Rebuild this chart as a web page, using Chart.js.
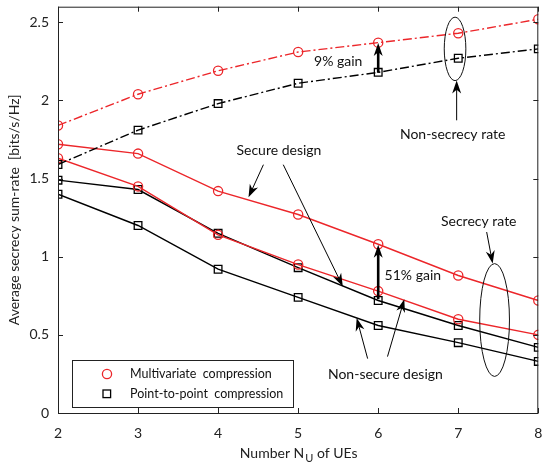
<!DOCTYPE html>
<html>
<head>
<meta charset="utf-8">
<script src="https://cdn.jsdelivr.net/npm/chart.js@4/dist/chart.umd.min.js"></script>
<style>
  html, body { margin: 0; padding: 0; background: #fff; }
  #wrap { width: 545px; height: 466px; }
</style>
</head>
<body>
<div id="wrap"><canvas id="rateChart" width="545" height="466"></canvas></div>
<script>
// number of UEs on the x axis
var nUE = [2, 3, 4, 5, 6, 7, 8];
var xTicks = [2, 3, 4, 5, 6, 7, 8];
var yTicks = [0, 0.5, 1, 1.5, 2, 2.5];
var yTickLabels = ['0', '0.5', '1', '1.5', '2', '2.5'];

// non-secrecy rate (dash-dot)
var mvNonSecrecy = [1.84, 2.04, 2.19, 2.31, 2.37, 2.43, 2.52];
var p2pNonSecrecy = [1.59, 1.81, 1.98, 2.11, 2.18, 2.27, 2.33];
// secrecy rate, secure design
var mvSecure = [1.72, 1.66, 1.42, 1.27, 1.08, 0.88, 0.72];
var p2pSecure = [1.49, 1.43, 1.15, 0.93, 0.72, 0.56, 0.42];
// secrecy rate, non-secure design
var mvNonSecure = [1.63, 1.45, 1.14, 0.95, 0.78, 0.60, 0.50];
var p2pNonSecure = [1.40, 1.20, 0.92, 0.74, 0.56, 0.45, 0.33];

var legendLabels = ['Multivariate  compression', 'Point-to-point  compression'];

var RED = 'rgb(236,38,42)';
var BLK = '#000';
var FONT = 'Lato, "DejaVu Sans", sans-serif';

function pts(ys) {
	return nUE.map(function(x, i) { return {x: x, y: ys[i]}; });
}

function series(label, ys, color, shape, dashed) {
	return {
		label: label,
		data: pts(ys),
		borderColor: color,
		backgroundColor: 'rgba(0,0,0,0)',
		borderWidth: 1.4,
		borderDash: dashed ? [9, 3, 2, 3] : [],
		pointStyle: shape,
		pointRadius: shape === 'circle' ? 4.6 : 5.4,
		pointBorderWidth: 1.3,
		pointBorderColor: color,
		pointBackgroundColor: 'rgba(0,0,0,0)',
		tension: 0
	};
}

// helper: filled arrow head, matlab style with a notch
function arrow(ctx, x1, y1, x2, y2, lw, hl, hw) {
	var dx = x2 - x1, dy = y2 - y1;
	var len = Math.sqrt(dx * dx + dy * dy);
	var ux = dx / len, uy = dy / len;
	var px = -uy, py = ux;
	ctx.save();
	ctx.strokeStyle = '#000';
	ctx.fillStyle = '#000';
	ctx.lineWidth = lw;
	ctx.setLineDash([]);
	ctx.beginPath();
	ctx.moveTo(x1, y1);
	ctx.lineTo(x2 - ux * hl * 0.6, y2 - uy * hl * 0.6);
	ctx.stroke();
	ctx.beginPath();
	ctx.moveTo(x2, y2);
	ctx.lineTo(x2 - ux * hl + px * hw, y2 - uy * hl + py * hw);
	ctx.lineTo(x2 - ux * hl * 0.7, y2 - uy * hl * 0.7);
	ctx.lineTo(x2 - ux * hl - px * hw, y2 - uy * hl - py * hw);
	ctx.closePath();
	ctx.fill();
	ctx.restore();
}

function noPad(s) {
	s.paddingLeft = 0;
	s.paddingRight = 0;
	s.paddingTop = 0;
	s.paddingBottom = 0;
}

var overlay = {
	id: 'overlay',
	afterDraw: function(chart) {
		var ctx = chart.ctx;
		var xs = chart.scales.x, ys = chart.scales.y;
		var a = chart.chartArea;
		function X(v) { return xs.getPixelForValue(v); }
		function Y(v) { return ys.getPixelForValue(v); }

		// box and inward ticks
		ctx.save();
		ctx.strokeStyle = '#222';
		ctx.lineWidth = 1;
		ctx.strokeRect(a.left + 0.5, a.top + 0.5, a.right - a.left - 1, a.bottom - a.top);
		ctx.beginPath();
		xTicks.forEach(function(t) {
			var px = Math.round(X(t)) + 0.5;
			ctx.moveTo(px, a.bottom); ctx.lineTo(px, a.bottom - 5);
			ctx.moveTo(px, a.top); ctx.lineTo(px, a.top + 5);
		});
		yTicks.forEach(function(t) {
			var py = Math.round(Y(t)) + 0.5;
			ctx.moveTo(a.left, py); ctx.lineTo(a.left + 5, py);
			ctx.moveTo(a.right, py); ctx.lineTo(a.right - 5, py);
		});
		ctx.stroke();
		ctx.restore();

		// axis titles
		ctx.save();
		ctx.fillStyle = '#222';
		ctx.font = '14px ' + FONT;
		ctx.textBaseline = 'middle';
		var t1 = 'Number N', t2 = 'U', t3 = ' of UEs';
		var w1 = ctx.measureText(t1).width;
		ctx.font = '11px ' + FONT;
		var w2 = ctx.measureText(t2).width;
		ctx.font = '14px ' + FONT;
		var w3 = ctx.measureText(t3).width;
		var sx = (a.left + a.right) / 2 - (w1 + w2 + w3) / 2;
		ctx.textAlign = 'left';
		ctx.fillText(t1, sx, 453);
		ctx.font = '11px ' + FONT;
		ctx.fillText(t2, sx + w1 + 1, 458);
		ctx.font = '14px ' + FONT;
		ctx.fillText(t3, sx + w1 + w2 + 1, 453);
		ctx.translate(14, (a.top + a.bottom) / 2);
		ctx.rotate(-Math.PI / 2);
		ctx.textAlign = 'center';
		ctx.fillText('Average secrecy sum-rate  [bits/s/Hz]', 0, 0);
		ctx.restore();

		// annotations
		ctx.save();
		ctx.fillStyle = '#111';
		ctx.font = '14px ' + FONT;
		ctx.textAlign = 'center';
		ctx.textBaseline = 'middle';
		ctx.fillText('9% gain', X(5.5), Y(2.247));
		ctx.fillText('Non-secrecy rate', X(6.93), Y(1.785));
		ctx.fillText('Secure design', X(4.76), Y(1.677));
		ctx.fillText('Secrecy rate', X(7.256), Y(1.228));
		ctx.fillText('Non-secure design', X(6.09), Y(0.247));
		ctx.textAlign = 'left';
		ctx.fillText('51% gain', X(6.08), Y(0.88));

		ctx.strokeStyle = '#111';
		ctx.lineWidth = 1;
		ctx.beginPath();
		ctx.ellipse(X(6.96), Y(2.33), X(6.96) - X(6.825), Y(2.33) - Y(2.533), 0, 0, 2 * Math.PI);
		ctx.stroke();
		ctx.beginPath();
		ctx.ellipse(X(7.454), Y(0.595), X(7.454) - X(7.268), Y(0.595) - Y(0.956), 0, 0, 2 * Math.PI);
		ctx.stroke();
		ctx.restore();

		arrow(ctx, X(6), Y(2.177), X(6), Y(2.367), 2.6, 13, 4.5);
		arrow(ctx, X(6), Y(0.728), X(6), Y(1.076), 2.6, 13, 4.5);
		arrow(ctx, X(6.98), Y(1.873), X(6.98), Y(2.127), 1, 13, 4.5);
		arrow(ctx, X(4.566), Y(1.589), X(4.38), Y(1.38), 1, 13, 4.5);
		arrow(ctx, X(4.814), Y(1.589), X(5.558), Y(0.81), 1, 13, 4.5);
		arrow(ctx, X(7.355), Y(1.158), X(7.43), Y(0.956), 1, 13, 4.5);
		arrow(ctx, X(5.868), Y(0.348), X(5.731), Y(0.608), 1, 13, 4.5);
		arrow(ctx, X(6.116), Y(0.361), X(6.326), Y(0.728), 1, 13, 4.5);

		// legend box
		ctx.save();
		ctx.fillStyle = '#fff';
		ctx.fillRect(72, 360, 221, 47);
		ctx.strokeStyle = '#222';
		ctx.lineWidth = 1;
		ctx.strokeRect(72.5, 360.5, 221, 47);
		ctx.lineWidth = 1.3;
		ctx.strokeStyle = RED;
		ctx.beginPath();
		ctx.arc(107, 374, 4.6, 0, 2 * Math.PI);
		ctx.stroke();
		ctx.strokeStyle = BLK;
		ctx.strokeRect(103, 390, 7.6, 7.6);
		ctx.fillStyle = '#111';
		ctx.font = '12.5px ' + FONT;
		ctx.textAlign = 'left';
		ctx.textBaseline = 'middle';
		ctx.fillText(legendLabels[0], 130, 374);
		ctx.fillText(legendLabels[1], 130, 394);
		ctx.restore();
	}
};

var rateChart = new Chart(document.getElementById('rateChart').getContext('2d'), {
	type: 'line',
	data: {
		datasets: [
			series('Multivariate, non-secrecy', mvNonSecrecy, RED, 'circle', true),
			series('Point-to-point, non-secrecy', p2pNonSecrecy, BLK, 'rect', true),
			series('Multivariate, secure', mvSecure, RED, 'circle', false),
			series('Multivariate, non-secure', mvNonSecure, RED, 'circle', false),
			series('Point-to-point, secure', p2pSecure, BLK, 'rect', false),
			series('Point-to-point, non-secure', p2pNonSecure, BLK, 'rect', false)
		]
	},
	options: {
		responsive: false,
		animation: false,
		layout: { padding: { left: 0, right: 3, top: 2, bottom: 0 } },
		plugins: {
			legend: { display: false },
			tooltip: { enabled: false }
		},
		scales: {
			x: {
				type: 'linear',
				min: 2,
				max: 8,
				grid: { display: false, drawTicks: false },
				border: { display: false },
				afterBuildTicks: function(s) { s.ticks = xTicks.map(function(v) { return {value: v}; }); },
				afterFit: function(s) { s.height = 53; noPad(s); },
				ticks: {
					padding: 12,
					color: '#222',
					font: { family: FONT, size: 14 },
					maxRotation: 0,
					callback: function(v) { return String(v); }
				}
			},
			y: {
				min: 0,
				max: 2.6,
				grid: { display: false, drawTicks: false },
				border: { display: false },
				afterBuildTicks: function(s) { s.ticks = yTicks.map(function(v) { return {value: v}; }); },
				afterFit: function(s) { s.width = 58; noPad(s); },
				ticks: {
					padding: 9,
					color: '#222',
					font: { family: FONT, size: 14 },
					callback: function(v) {
						var i = yTicks.indexOf(v);
						return i >= 0 ? yTickLabels[i] : '';
					}
				}
			}
		}
	},
	plugins: [overlay]
});
</script>
</body>
</html>
